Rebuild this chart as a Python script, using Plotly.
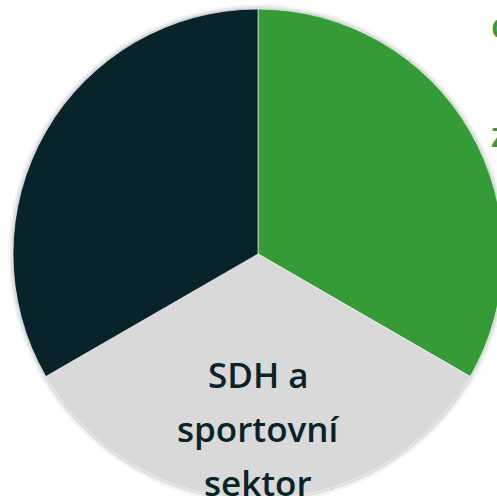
import plotly.graph_objects as go

# Data
categories = ["Církve a zájmová sdružení", "SDH a sportovní sektor", "Obec"]
values = [1, 1, 1]
colors = ["#359b37", "#d9d9d9", "#08232a"]
inside_label_lines = ["SDH a", "sportovní", "sektor"]
outside_label_lines = ["církve a spolky", "zájmová sdružení"]

W, H = 520, 520
cx, cy, r = 258, 254, 245


def dom(rad):
    return dict(x=[(cx - rad) / W, (cx + rad) / W], y=[1 - (cy + rad) / H, 1 - (cy - rad) / H])


fig = go.Figure()
# soft shadow layers
for extra, alpha in [(5, 0.04), (3, 0.05), (1.5, 0.07)]:
    fig.add_trace(go.Pie(values=[1], labels=["shadow"], domain=dom(r + extra), sort=False,
                         marker=dict(colors=[f"rgba(0,0,0,{alpha})"], line=dict(width=0)),
                         textinfo="none", hoverinfo="skip", showlegend=False))

fig.add_trace(go.Pie(
    labels=categories, values=values, sort=False, direction="clockwise", rotation=0,
    marker=dict(colors=colors, line=dict(color="white", width=0.6)),
    textinfo="none", domain=dom(r), showlegend=False,
))

annotations = []
for i, line in enumerate(inside_label_lines):
    annotations.append(dict(text=line, x=cx / W, y=1 - (374.5 + 54 * i) / H, xref="paper", yref="paper",
                            xanchor="center", yanchor="middle", showarrow=False,
                            font=dict(family="Open Sans", size=35, color="#08232a", weight=600)))
for i, line in enumerate(outside_label_lines):
    annotations.append(dict(text=line, x=489 / W, y=1 - (24.5 + 110 * i) / H, xref="paper", yref="paper",
                            xanchor="left", yanchor="middle", showarrow=False,
                            font=dict(family="Open Sans", size=34, color="#359b37", weight=600)))

fig.update_layout(width=W, height=H, autosize=False, margin=dict(l=0, r=0, t=0, b=0),
                  paper_bgcolor="white", plot_bgcolor="white", annotations=annotations)

fig.write_html("out.html", config={"displayModeBar": False},
               post_script="document.body.style.margin='0';document.body.style.overflow='hidden';document.documentElement.style.overflow='hidden';")
